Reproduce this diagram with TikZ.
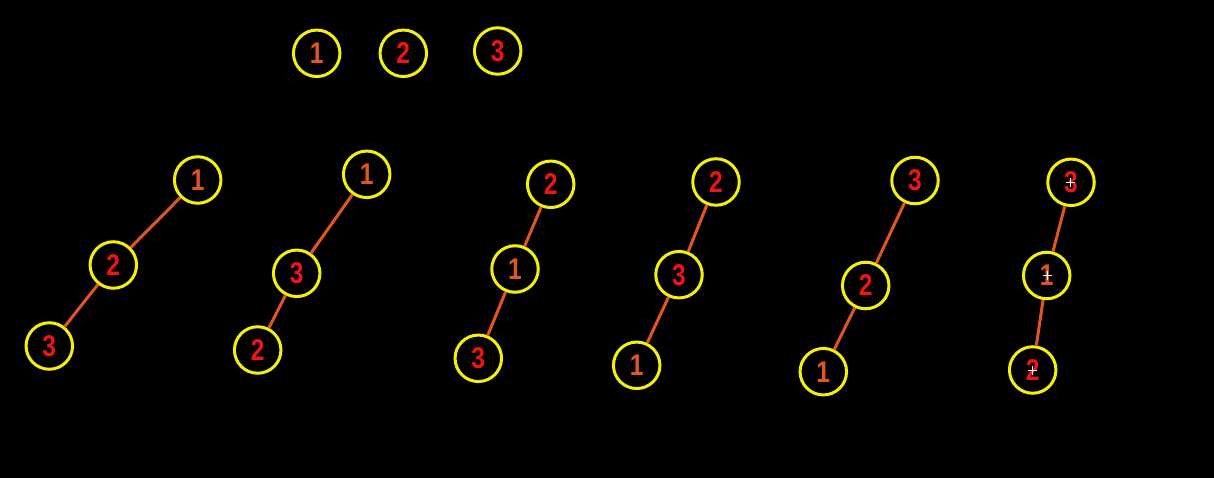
\documentclass[tikz,border=0pt]{standalone}
\usepackage{fontspec}
\setmainfont{Liberation Sans}
\newfontfamily\digitfont[FakeStretch=0.82]{Liberation Sans}
\begin{document}
\begin{tikzpicture}[x=1pt,y=-1pt,
  nd/.style={circle,draw=ylw,line width=3pt,minimum size=46.5pt,inner sep=0pt,
    font=\digitfont\fontsize{30}{30}\selectfont\bfseries,text=rd},
  one/.style={text=org},
  edge/.style={draw=org,line width=3pt},
  cross/.style={draw=white,line width=1pt}]
\definecolor{ylw}{RGB}{245,240,10}
\definecolor{rd}{RGB}{240,20,20}
\definecolor{org}{RGB}{225,85,30}
\fill[black] (0,0) rectangle (1214,478);
\useasboundingbox (0,0) rectangle (1214,478);
% top row
\node[nd,one] (t1) at (316.7,53.3) {1};
\node[nd] (t2) at (403.3,53.3) {2};
\node[nd] (t3) at (497.7,51) {3};
% tree 1
\node[nd,one] (a1) at (197.7,180) {1};
\node[nd] (a2) at (113.3,265) {2};
\node[nd] (a3) at (49.3,346) {3};
\draw[edge] (a1) -- (a2); \draw[edge] (a2) -- (a3);
% tree 2
\node[nd,one] (b1) at (366.7,174.3) {1};
\node[nd] (b3) at (296.7,273.3) {3};
\node[nd] (b2) at (257.7,350) {2};
\draw[edge] (b1) -- (b3); \draw[edge] (b3) -- (b2);
% tree 3
\node[nd] (c2) at (550.7,184.3) {2};
\node[nd,one] (c1) at (515,269) {1};
\node[nd] (c3) at (478.3,358.3) {3};
\draw[edge] (c2) -- (c1); \draw[edge] (c1) -- (c3);
% tree 4
\node[nd] (d2) at (716,182) {2};
\node[nd] (d3) at (679,274.7) {3};
\node[nd,one] (d1) at (636.7,365.3) {1};
\draw[edge] (d2) -- (d3); \draw[edge] (d3) -- (d1);
% tree 5
\node[nd] (e3) at (915,180.5) {3};
\node[nd] (e2) at (865.7,285.5) {2};
\node[nd,one] (e1) at (823.3,371.7) {1};
\draw[edge] (e3) -- (e2); \draw[edge] (e2) -- (e1);
% tree 6
\node[nd] (f3) at (1071,182.3) {3};
\node[nd,one] (f1) at (1046.7,275.5) {1};
\node[nd] (f2) at (1032.7,370) {2};
\draw[edge] (f3) -- (f1); \draw[edge] (f1) -- (f2);
\coordinate (x3) at (1070,182.3);
\coordinate (x1) at (1047.7,275.7);
\coordinate (x2) at (1032.3,370);
\foreach \c in {x1,x2,x3}{
  \draw[cross] ([xshift=-4.5]\c) -- ([xshift=4.5]\c);
  \draw[cross] ([yshift=-4.5]\c) -- ([yshift=4.5]\c);
}
\end{tikzpicture}
\end{document}
